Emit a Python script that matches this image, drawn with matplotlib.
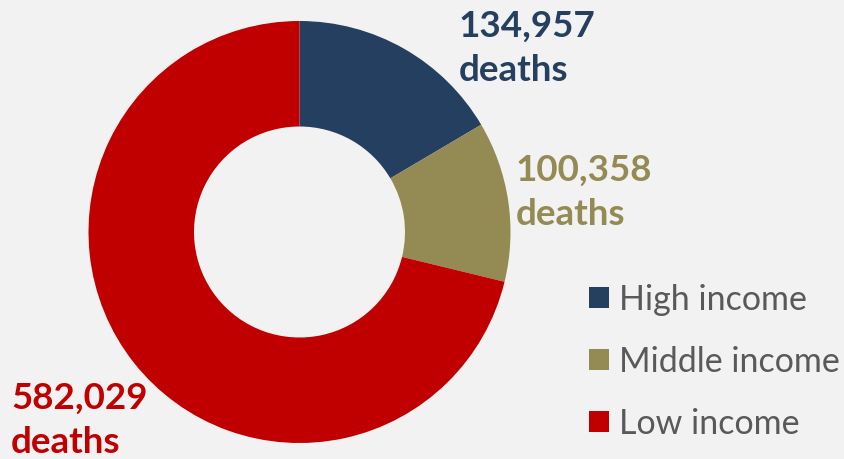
import matplotlib
matplotlib.use("Agg")
import matplotlib.pyplot as plt
from matplotlib.patches import Patch

categories = ["High income", "Middle income", "Low income"]
deaths = [134957, 100358, 582029]
colors = ["#243f60", "#948a54", "#c00000"]

BG = "#f2f2f2"
W, H = 844, 459

plt.rcParams["font.family"] = ["Lato", "DejaVu Sans"]

fig = plt.figure(figsize=(W / 100, H / 100), dpi=100, facecolor=BG)
ax = fig.add_axes([0, 0, 1, 1])
ax.set_facecolor(BG)

# axes in pixel units, y measured up from the bottom
ax.pie(
    deaths,
    colors=colors,
    radius=211,
    center=(299.5, H - 232),
    startangle=90,
    counterclock=False,
    wedgeprops=dict(width=105.5, linewidth=0),
)
ax.set_xlim(0, W)
ax.set_ylim(0, H)
ax.set_aspect("equal")
ax.set_axis_off()

# value labels (top-left of each text block, in pixels)
label_pos = [(459, 10), (516, 154), (11, 382)]
for val, col, (x, y) in zip(deaths, colors, label_pos):
    ax.text(x, H - y, f"{val:,}\ndeaths", color=col, fontsize=26.5,
            fontweight="bold", ha="left", va="top", linespacing=1.42)

handles = [Patch(facecolor=c, edgecolor="none") for c in colors]
ax.legend(handles, categories, loc="upper left", bbox_to_anchor=(558 / W, 1 - 253 / H),
          frameon=False, fontsize=24.5, labelcolor="#595959",
          handlelength=0.6, handleheight=0.6, handletextpad=0.3, labelspacing=0.88)

fig.savefig("out.png", dpi=100, facecolor=BG)
